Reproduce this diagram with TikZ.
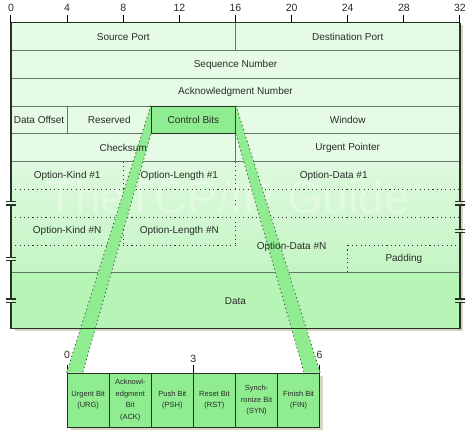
\documentclass[tikz,border=0pt]{standalone}
\usepackage{fontspec}
\setmainfont{Liberation Sans}
\usetikzlibrary{calc}
\definecolor{cellhdr}{RGB}{229,251,229}
\definecolor{cellopta}{RGB}{222,249,222}
\definecolor{celloptb}{RGB}{196,245,196}
\definecolor{celldat}{RGB}{183,245,183}
\definecolor{bitgrn}{RGB}{144,236,144}
\definecolor{rimclr}{RGB}{38,50,38}
\definecolor{ruleclr}{RGB}{100,120,100}
\definecolor{shadowclr}{RGB}{216,212,196}
\definecolor{txt}{RGB}{40,44,40}
\tikzset{
  fld/.style={font=\fontsize{10}{12}\selectfont,inner sep=0pt,text=txt},
  ctlbox/.style={fill=bitgrn,draw=rimclr,line width=1pt,minimum width=84.18pt,
    minimum height=27.8pt,inner sep=0pt,font=\fontsize{10}{12}\selectfont,text=txt},
  sepline/.style={draw=ruleclr,line width=1pt},
  optline/.style={draw=black!80,line width=0.9pt,dash pattern=on 1.1pt off 3.2pt},
  rimline/.style={draw=rimclr,line width=1.4pt},
  brkmark/.style={draw=rimclr,line width=1.2pt},
  bitcell/.style={draw=rimclr,line width=1pt,fill=bitgrn,minimum width=42.09pt,
    minimum height=54.5pt,inner sep=0pt,align=center,text=txt,
    font=\fontsize{7.5}{11.6}\selectfont},
  bandfill/.style={fill=bitgrn},
  bandedge/.style={draw=black!70,line width=0.9pt,dash pattern=on 1.1pt off 3pt},
  tickline/.style={draw=black,line width=1pt},
  num/.style={font=\fontsize{10.5}{12}\selectfont,inner sep=0pt,text=txt},
}
\begin{document}
\begin{tikzpicture}[x=14.03pt,y=-27.8pt]
  \useasboundingbox (-0.784,-0.817) rectangle (33.0,14.867);
  % shadow and cell fills
  \fill[shadowclr] (0.25,0.1) rectangle (32.25,11.1);
  \fill[cellhdr] (0,0) rectangle (32,5);
  \shade[top color=cellopta,bottom color=celloptb] (0,5) rectangle (32,9);
  \fill[celldat] (0,9) rectangle (32,11);
  \node[fld,text=white,text opacity=0.3,font=\fontsize{46}{46}\selectfont] (wm) at (15.5,6.27) {TheTCP/IP Guide};
  % field borders
  \foreach \r in {1,...,5} \draw[sepline] (0,\r) -- (32,\r);
  \draw[sepline] (0,9) -- (32,9);
  \draw[sepline] (16,0) -- (16,1) (4,3) -- (4,4) (16,3) -- (16,5);
  % options area
  \draw[optline] (0,6) -- (32,6) (0,7) -- (32,7) (0,8) -- (16,8) (24,8) -- (32,8);
  \foreach \b in {8,16} \draw[optline] (\b,5) -- (\b,6) (\b,6.36) -- (\b,6.64) (\b,7) -- (\b,8);
  \draw[optline] (24,8) -- (24,9);
  \node[ctlbox] (ctl) at (13,3.5) {Control Bits};
  % control bits breakout
  \fill[shadowclr] (4.25,12.7) rectangle (22.25,14.66);
  \foreach \n/\c/\t in {urg/5.5/Urgent Bit\\(URG),ack/8.5/Acknowl-\\edgment\\Bit\\(ACK),
    psh/11.5/Push Bit\\(PSH),rst/14.5/Reset Bit\\(RST),syn/17.5/Synch-\\ronize Bit\\(SYN),
    fin/20.5/Finish Bit\\(FIN)}
    \node[bitcell] (\n) at (\c,13.58) {\t};
  \foreach \b/\l/\h in {4/0/11.95,13/3/12.1,22/6/11.95}{
    \draw[tickline] (\b,12.6) -- (\b,12.3);
    \node[num] (b\l) at (\b,\h) {\l};
  }
  \coordinate (lin) at ($(urg.north west)+(1.15,0)$);
  \coordinate (rin) at ($(fin.north east)+(-1.15,0)$);
  \fill[bandfill] (ctl.north west) -- (ctl.south west) -- (lin) -- (urg.north west) -- cycle;
  \fill[bandfill] (ctl.north east) -- (ctl.south east) -- (rin) -- (fin.north east) -- cycle;
  \draw[bandedge] (ctl.north west) -- (urg.north west) (ctl.south west) -- (lin);
  \draw[bandedge] (ctl.north east) -- (fin.north east) (ctl.south east) -- (rin);
  % outer rim with breaks
  \draw[rimline] (0,0) -- (32,0);
  \draw[rimline] (0,0) -- (0,6.44) (0,6.56) -- (0,8.44) (0,8.56) -- (0,9.94)
    (0,10.06) -- (0,11) -- (32,11) -- (32,10.06) (32,9.94) -- (32,7.56)
    (32,7.44) -- (32,6.56) (32,6.44) -- (32,0);
  \foreach \x/\y in {0/6.5,0/8.5,0/10,32/6.5,32/7.5,32/10}
    \draw[brkmark] (\x-0.35,\y-0.06) -- (\x+0.35,\y-0.06) (\x-0.35,\y+0.06) -- (\x+0.35,\y+0.06);
  % bit scale
  \foreach \b in {0,4,...,32}{
    \draw[tickline] (\b,0) -- (\b,-0.27);
    \node[num] (t\b) at (\b,-0.55) {\b};
  }
  % field names
  \foreach \n/\x/\y/\t in {src/8/0.5/Source Port,dst/24/0.5/Destination Port,
    seq/16/1.5/Sequence Number,ackn/16/2.5/Acknowledgment Number,
    doff/2/3.5/Data Offset,rsv/7/3.5/Reserved,win/24/3.5/Window,
    csum/8/4.5/Checksum,urgp/24/4.5/Urgent Pointer,
    okf/4/5.5/Option-Kind \#1,olf/12/5.5/Option-Length \#1,odf/23/5.5/Option-Data \#1,
    okn/4/7.5/Option-Kind \#N,oln/12/7.5/Option-Length \#N,odn/20/8.05/Option-Data \#N,
    pad/28/8.5/Padding,dat/16/10/Data}
    \node[fld] (\n) at (\x,\y) {\t};
\end{tikzpicture}
\end{document}
